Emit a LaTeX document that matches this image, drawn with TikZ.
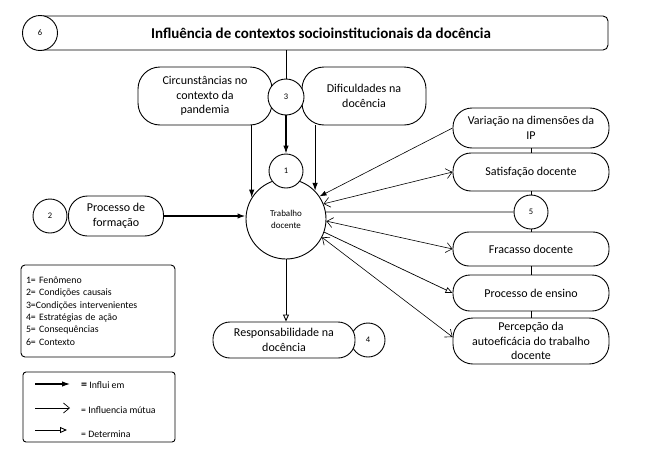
\documentclass[tikz,border=0pt]{standalone}
\usepackage{fontspec}
\setmainfont{Carlito}
\usetikzlibrary{arrows.meta}
\begin{document}
\begin{tikzpicture}[x=1pt,y=-1pt,
  box/.style={draw, line width=0.9pt, rounded corners=16pt, fill=white, align=center, inner sep=0pt, minimum width=156pt, font=\fontsize{12}{14.5}\selectfont},
  num/.style={draw, circle, line width=0.9pt, fill=white, minimum size=34pt, inner sep=0pt, font=\fontsize{8.5}{10}\selectfont},
  infl/.style={line width=1.1pt, -{Latex[length=8pt,width=5.5pt]}},
  thinfl/.style={line width=0.6pt, -{Latex[length=7pt,width=5pt]}},
  mut/.style={line width=0.6pt, {Straight Barb[length=6pt,width=10pt]}-{Straight Barb[length=6pt,width=10pt]}},
  det/.style={line width=0.7pt, -{Triangle[open,length=7pt,width=6pt]}},
  link/.style={line width=0.6pt},
  legtxt/.style={font=\fontsize{9.8}{12.4}\selectfont, inner sep=0pt}
]
\useasboundingbox (0,0) rectangle (650,450);
% context bar
\node[draw, line width=0.9pt, rounded corners=5pt, minimum width=570pt, minimum height=34pt, inner sep=0pt, font=\bfseries\fontsize{15}{17}\selectfont] (bar) at (323,33) {\hspace*{-4pt}Influência de contextos socioinstitucionais da docência};
\node[num, minimum size=35pt] (c6) at (40,33) {6};
% intervening conditions
\node[box, rounded corners=22pt, minimum width=134pt, minimum height=58pt] (circ) at (205,96) {Circunstâncias no\\contexto da\\pandemia};
\node[box, rounded corners=22pt, minimum width=124pt, minimum height=58pt] (dif) at (364,96) {Dificuldades na\\docência};
\node[num, minimum size=36pt] (c3) at (286,97) {3};
\draw[line width=0.9pt] (bar.south -| c3) -- (c3.north);
% phenomenon
\node[draw, circle, line width=0.9pt, minimum size=80pt, inner sep=0pt, align=center, font=\fontsize{9}{12}\selectfont] (tw) at (286,219) {Trabalho\\docente};
\node[num] (c1) at (286,171) {1};
\draw[infl] (c3.south) -- (c1.north);
\draw[infl] (circ.south -| tw.148) -- (tw.148);
\draw[infl] (dif.south -| tw.44) -- (tw.44);
% causal
\node[num] (c2) at (50,216) {2};
\node[box, rounded corners=19pt, minimum width=95pt, minimum height=40pt] (form) at (116,216) {Processo de\\formação};
\draw[infl, line width=1.6pt] (form.east) -- (form.east -| tw.west);
% strategies
\node[num] (c4) at (368,340) {4};
\node[box, rounded corners=17pt, minimum width=142pt, minimum height=36pt] (resp) at (284,340) {Responsabilidade na\\docência};
\draw[det, line width=0.9pt] (tw.south) -- (tw.south |- resp.north);
% consequences
\node[box, rounded corners=19pt, minimum height=40pt] (var) at (531,128) {Variação na dimensões da\\IP};
\node[box, rounded corners=18pt, minimum height=38pt] (sat) at (531,172) {Satisfação docente};
\node[num] (c5) at (531,212) {5};
\node[box, rounded corners=16pt, minimum height=34pt] (fra) at (531,249) {Fracasso docente};
\node[box, rounded corners=17pt, minimum height=36pt] (pro) at (531,293) {Processo de ensino};
\node[box, rounded corners=20pt, minimum height=46pt] (per) at (531,341) {Percepção da\\autoeficácia do trabalho\\docente};
\draw[link] (var.south) -- (sat.north);
\draw[link] (sat.south) -- (c5.north);
\draw[link] (c5.south) -- (fra.north);
\draw[link] (fra.south) -- (pro.north);
\draw[link] (pro.south) -- (per.north);
\draw[link] (c5.west) -- (tw.10);
\draw[thinfl] (var.west) -- (tw.34);
\draw[mut] (tw.22) -- (sat.west);
\draw[mut] (tw.-3) -- (fra.west);
\draw[det] (tw.-19) -- (pro.west);
\draw[mut] (tw.-27) -- ([yshift=4pt]per.west);
% legend 1
\node[draw, line width=0.9pt, rounded corners=4pt, minimum width=154pt, minimum height=92pt, text width=144pt, align=left, inner sep=0pt, font=\fontsize{9.8}{12.4}\selectfont] (leg1) at (98,311) {1= Fenômeno\\2= Condições causais\\3=Condições intervenientes\\4= Estratégias de ação\\5= Consequências\\6= Contexto};
% legend 2
\node[draw, line width=0.9pt, rounded corners=3pt, minimum width=152pt, minimum height=70pt] (leg2) at (99,407) {};
\coordinate (l1a) at (35,384); \coordinate (l1b) at (70,384);
\coordinate (l2a) at (35,408); \coordinate (l2b) at (70,408);
\coordinate (l3a) at (35,430); \coordinate (l3b) at (67,430);
\draw[infl] (l1a) -- (l1b);
\draw[line width=0.7pt, -{Straight Barb[length=6pt,width=10pt]}] (l2a) -- (l2b);
\draw[det, line width=0.9pt] (l3a) -- (l3b);
\node[legtxt, anchor=west] (t1) at (81,385) {{\bfseries\fontsize{12}{12}\selectfont =} Influi em};
\node[legtxt, anchor=west] (t2) at (81,410) {= Influencia mútua};
\node[legtxt, anchor=west] (t3) at (81,434) {= Determina};
\end{tikzpicture}
\end{document}
